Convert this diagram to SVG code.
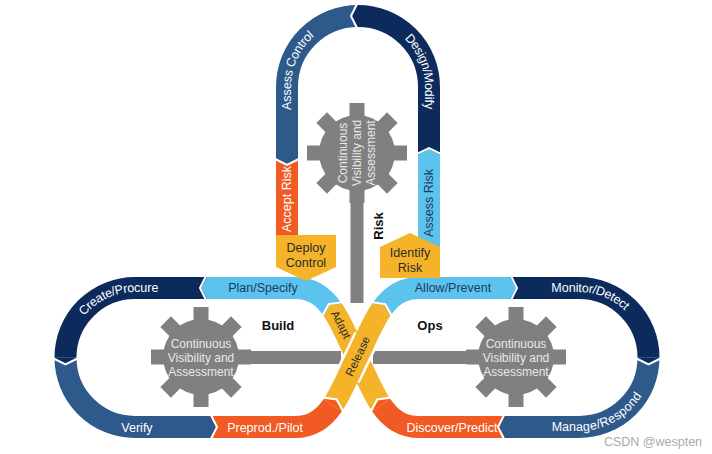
<svg xmlns="http://www.w3.org/2000/svg" xmlns:xlink="http://www.w3.org/1999/xlink" width="712" height="454" viewBox="0 0 712 454">
<defs>
<style>
.band{fill:none;stroke-width:22;stroke-linecap:butt}
.navy{stroke:#0c2b5c}
.mid{stroke:#2d5a8b}
.lb{stroke:#5cc3ee}
.or{stroke:#f15a22}
.ye{stroke:#f5b329}
.t{font-family:"Liberation Sans",Arial,sans-serif;font-size:12.5px;dominant-baseline:central;text-anchor:middle}
.c{font-size:12.5px}
.w{fill:#ffffff}
.dk{fill:#1c3a66}
.bk{fill:#2b2b2b}
.b{font-weight:bold;fill:#111111;font-size:13px}
.gt{font-family:"Liberation Sans",Arial,sans-serif;font-size:12px;fill:#e8e8e8;text-anchor:middle;dominant-baseline:central}
.gray{fill:#808080}
.cw{fill:none;stroke:#ffffff;stroke-width:2}
</style>
<g id="gear">
<circle r="38"/>
<rect id="tooth" x="-7.5" y="-50" width="15" height="16"/>
<use href="#tooth" transform="rotate(45)"/>
<use href="#tooth" transform="rotate(90)"/>
<use href="#tooth" transform="rotate(135)"/>
<use href="#tooth" transform="rotate(180)"/>
<use href="#tooth" transform="rotate(225)"/>
<use href="#tooth" transform="rotate(270)"/>
<use href="#tooth" transform="rotate(315)"/>
</g>
<g id="chev">
<polygon points="0,-11 6,0 0,11"/>
<polyline class="cw" points="1,-12 7,0 1,12"/>
</g>
<path id="pAC" d="M287 158 L287 87 A71 71 0 0 1 358 16"/>
<path id="pDM" d="M358 16 A71 71 0 0 1 429 87 L429 155"/>
<path id="pCP" d="M65.5 357.5 A69.5 69.5 0 0 1 135 288 L207 288"/>
<path id="pMD" d="M510 288 L579 288 A69.5 69.5 0 0 1 648.5 357.5"/>
<path id="pMR" d="M505 427 L579 427 A69.5 69.5 0 0 0 648.5 357.5"/>
<path id="pAd" d="M332.75 309.81 C341.75 322.88 348.5 340.25 357 357.5 C365.5 374.75 372.25 392.12 381.25 405.19"/>
<path id="pRe" d="M332.75 405.19 C341.75 392.12 348.5 374.75 357 357.5 C365.5 340.25 372.25 322.88 381.25 309.81"/>
</defs>

<g id="connectors">
<rect class="gray" x="350.5" y="153" width="13" height="150"/>
<rect class="gray" x="201" y="351" width="140" height="13"/>
<rect class="gray" x="373" y="351" width="143" height="13"/>
</g>

<g id="gear-risk">
<use href="#gear" class="gray" transform="translate(357,153)"/>
<g transform="translate(357,153) rotate(-90)">
<text class="gt" x="0" y="-14">Continuous</text>
<text class="gt" x="0" y="0">Visibility and</text>
<text class="gt" x="0" y="14">Assessment</text>
</g>
</g>
<g id="gear-build">
<use href="#gear" class="gray" transform="translate(201,357)"/>
<text class="gt" x="201" y="344">Continuous</text>
<text class="gt" x="201" y="358">Visibility and</text>
<text class="gt" x="201" y="372">Assessment</text>
</g>
<g id="gear-ops">
<use href="#gear" class="gray" transform="translate(516,357)"/>
<text class="gt" x="516" y="344">Continuous</text>
<text class="gt" x="516" y="358">Visibility and</text>
<text class="gt" x="516" y="372">Assessment</text>
</g>

<g id="assess-control">
<path class="band mid" d="M287 158 L287 87 A71 71 0 0 1 358 16"/>
<text class="t c w"><textPath href="#pAC" startOffset="90">Assess Control</textPath></text>
</g>
<g id="design-modify">
<path class="band navy" d="M358 16 A71 71 0 0 1 429 87 L429 155"/>
<text class="t c w"><textPath href="#pDM" startOffset="94">Design/Modify</textPath></text>
</g>
<g id="accept-risk">
<path class="band or" d="M287 158 L287 240"/>
<text class="t c w" transform="translate(287,199) rotate(-90)">Accept Risk</text>
</g>
<g id="assess-risk">
<path class="band lb" d="M429 155 L429 250"/>
<text class="t c dk" transform="translate(429,203) rotate(-90)">Assess Risk</text>
</g>

<g id="create-procure">
<path class="band navy" d="M207 288 L135 288 A69.5 69.5 0 0 0 65.5 357.5"/>
<text class="t c w"><textPath href="#pCP" startOffset="90">Create/Procure</textPath></text>
</g>
<g id="verify">
<path class="band mid" d="M65.5 357.5 A69.5 69.5 0 0 0 135 427 L210 427"/>
<text class="t w" x="137" y="428">Verify</text>
</g>
<g id="monitor-detect">
<path class="band navy" d="M510 288 L579 288 A69.5 69.5 0 0 1 648.5 357.5"/>
<text class="t c w"><textPath href="#pMD" startOffset="82">Monitor/Detect</textPath></text>
</g>
<g id="manage-respond">
<path class="band mid" d="M648.5 357.5 A69.5 69.5 0 0 1 579 427 L505 427"/>
<text class="t c w"><textPath href="#pMR" startOffset="96">Manage/Respond</textPath></text>
</g>

<g id="plan-specify">
<path class="band lb" d="M207 288 L295 288 C312.5 288 323.75 296.75 332.75 309.81"/>
<text class="t dk" x="263" y="288">Plan/Specify</text>
</g>
<g id="discover-predict">
<path class="band or" d="M381.25 405.19 C390.25 418.25 401.5 427 419 427 L505 427"/>
<text class="t w" x="452" y="428">Discover/Predict</text>
</g>
<g id="preprod-pilot">
<path class="band or" d="M210 427 L295 427 C312.5 427 323.75 418.25 332.75 405.19"/>
<text class="t w" x="265" y="428">Preprod./Pilot</text>
</g>
<g id="allow-prevent">
<path class="band lb" d="M381.25 309.81 C390.25 296.75 401.5 288 419 288 L510 288"/>
<text class="t dk" x="453" y="288">Allow/Prevent</text>
</g>
<g id="adapt">
<path class="band ye" d="M332.75 309.81 C341.75 322.88 348.5 340.25 357 357.5 C365.5 374.75 372.25 392.12 381.25 405.19"/>
<text class="t bk" style="font-size:11.5px"><textPath href="#pAd" startOffset="17">Adapt</textPath></text>
</g>
<g id="release">
<line x1="347.3" y1="377.2" x2="366.7" y2="337.8" stroke="#ffffff" stroke-width="27"/>
<path class="band ye" d="M332.75 405.19 C341.75 392.12 348.5 374.75 357 357.5 C365.5 340.25 372.25 322.88 381.25 309.81"/>
<text class="t bk" style="font-size:11.5px"><textPath href="#pRe" startOffset="55">Release</textPath></text>
</g>

<g id="chevrons">
<use href="#chev" fill="#5cc3ee" transform="translate(207,288) rotate(180)"/>
<use href="#chev" fill="#0c2b5c" transform="translate(65.5,357.5) rotate(90)"/>
<use href="#chev" fill="#2d5a8b" transform="translate(210,427)"/>
<use href="#chev" fill="#f15a22" transform="translate(332.75,405.19) rotate(-55.4)"/>
<use href="#chev" fill="#f5b329" transform="translate(381.25,309.81) rotate(-55.4)"/>
<use href="#chev" fill="#5cc3ee" transform="translate(510,288)"/>
<use href="#chev" fill="#0c2b5c" transform="translate(648.5,357.5) rotate(90)"/>
<use href="#chev" fill="#2d5a8b" transform="translate(505,427) rotate(180)"/>
<use href="#chev" fill="#f15a22" transform="translate(381.25,405.19) rotate(-124.6)"/>
<use href="#chev" fill="#f5b329" transform="translate(332.75,309.81) rotate(-124.6)"/>
<use href="#chev" fill="#5cc3ee" transform="translate(429,155) rotate(-90)"/>
<use href="#chev" fill="#0c2b5c" transform="translate(358,16) rotate(180)"/>
<use href="#chev" fill="#2d5a8b" transform="translate(287,158) rotate(90)"/>
</g>

<g id="deploy-control">
<polygon points="276,235 336,235 336,267 306,281 276,267" fill="#f5b329"/>
<text class="t bk" x="306" y="248">Deploy</text>
<text class="t bk" x="306" y="263">Control</text>
</g>
<g id="identify-risk">
<polygon points="410,233 440,247 440,278 380,278 380,247" fill="#f5b329"/>
<text class="t bk" x="410" y="253">Identify</text>
<text class="t bk" x="410" y="268">Risk</text>
</g>

<g id="labels">
<text class="t b" x="278" y="325">Build</text>
<text class="t b" x="430" y="325">Ops</text>
<text class="t b" transform="translate(378,226) rotate(-90)">Risk</text>
<text class="t" x="653" y="442" style="fill:#aaaaaa">CSDN @wespten</text>
</g>
</svg>
